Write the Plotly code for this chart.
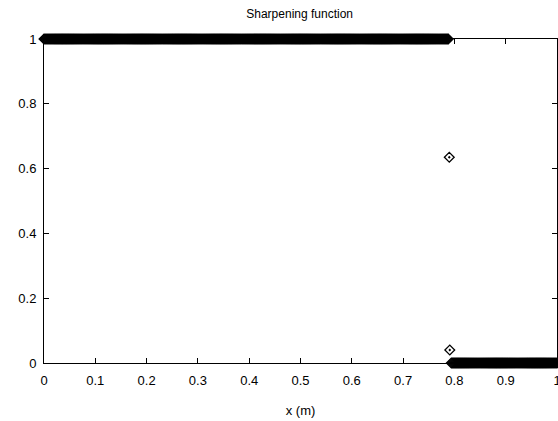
import numpy as np
import plotly.graph_objects as go

# Sampled points of the sharpening function
n_points = 501
x_start, x_end = 0.0, 1.0
x_high_end = 0.788      # last sample with value 1
x_mid = [0.790, 0.791]  # transition samples
y_mid = [0.635, 0.04]
x_low_start = 0.794     # first sample with value 0
high_value = 1.0
low_value = 0.0

grid = np.linspace(x_start, x_end, n_points)
x_high = grid[grid <= x_high_end + 1e-9]
x_low = grid[grid >= x_low_start - 1e-9]

x_vals = list(x_high) + x_mid + list(x_low)
y_vals = [high_value] * len(x_high) + y_mid + [low_value] * len(x_low)

x_ticks = [0, 0.1, 0.2, 0.3, 0.4, 0.5, 0.6, 0.7, 0.8, 0.9, 1]
x_ticklabels = ["0", "0.1", "0.2", "0.3", "0.4", "0.5", "0.6", "0.7", "0.8", "0.9", "1"]
y_ticks = [0, 0.2, 0.4, 0.6, 0.8, 1]
y_ticklabels = ["0", "0.2", "0.4", "0.6", "0.8", "1"]

FONT = "Liberation Sans, Arial, sans-serif"

fig = go.Figure()
fig.add_trace(go.Scatter(
    x=x_vals, y=y_vals, mode="markers",
    marker=dict(symbol="diamond-open-dot", size=7.5, color="black", line=dict(width=1.3, color="black")),
    cliponaxis=False, showlegend=False,
))

axis_common = dict(
    showgrid=False, zeroline=False, showline=True, linecolor="black", linewidth=1,
    mirror="ticks", ticks="inside", ticklen=5, tickcolor="black", tickwidth=1,
    tickfont=dict(family=FONT, size=13, color="black"),
    ticklabeloverflow="allow", automargin=False,
)

fig.update_layout(
    width=558, height=421,
    margin=dict(l=44, r=1, t=39, b=58, autoexpand=False),
    paper_bgcolor="white", plot_bgcolor="white",
    title=dict(text="Sharpening function", x=0.537, xanchor="center", y=0.968, yanchor="middle",
               font=dict(family=FONT, size=12, color="black")),
    xaxis=dict(range=[0, 1], tickvals=x_ticks, ticktext=x_ticklabels, ticklabelstandoff=5,
               title=dict(text="x (m)", standoff=19,
                          font=dict(family=FONT, size=13, color="black")),
               **axis_common),
    yaxis=dict(range=[0, 1], tickvals=y_ticks, ticktext=y_ticklabels, ticklabelstandoff=4,
               **axis_common),
)

fig.write_html(
    "out.html",
    config={"displayModeBar": False},
    post_script="document.body.style.margin='0';document.body.style.overflow='hidden';",
)
